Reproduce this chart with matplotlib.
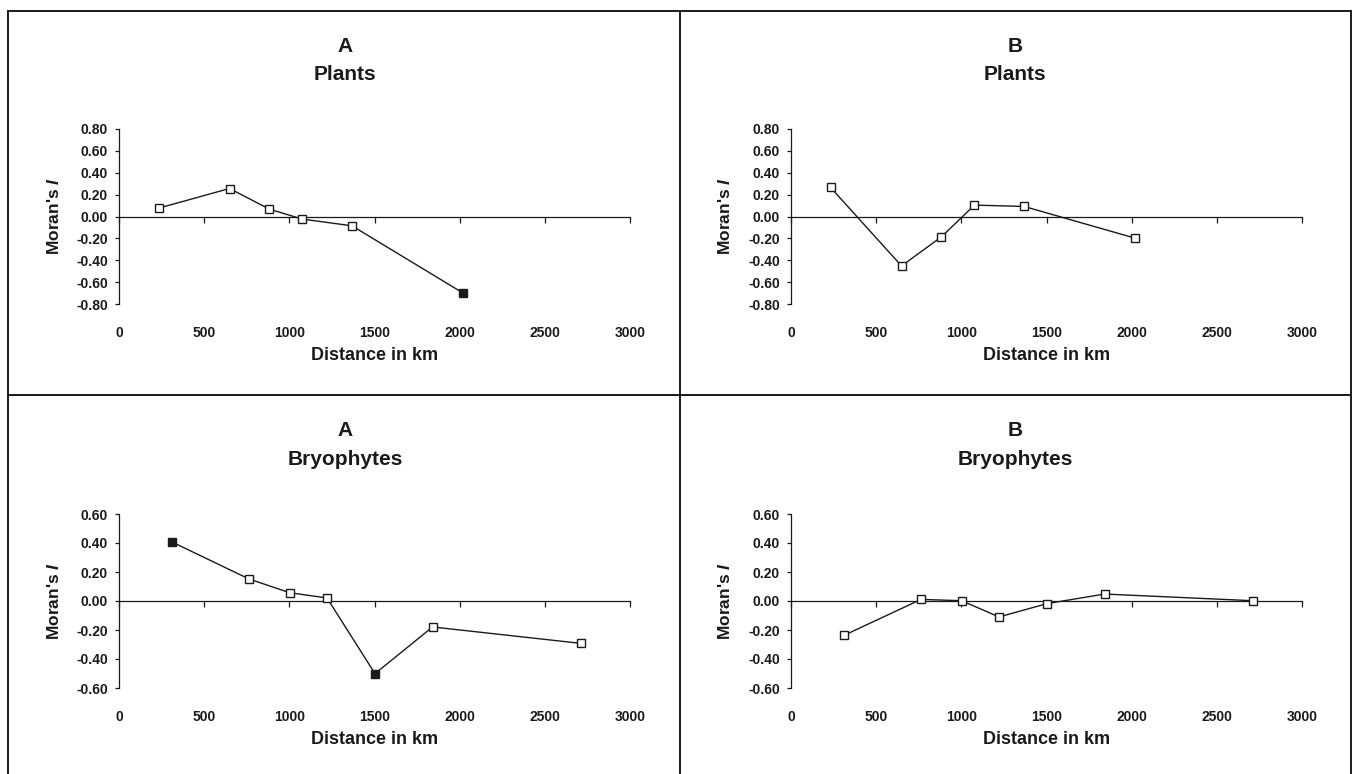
import matplotlib
matplotlib.use("Agg")
import matplotlib.pyplot as plt
from matplotlib.lines import Line2D

plt.rcParams['font.family'] = ['Liberation Sans', 'DejaVu Sans']
plt.rcParams['font.weight'] = 'bold'

# --- data ---
plant_dist = [232, 649, 883, 1077, 1368, 2020]
plants_a = [0.076, 0.256, 0.067, -0.024, -0.085, -0.70]
plants_a_sig = [False, False, False, False, False, True]
plants_b = [0.266, -0.452, -0.186, 0.104, 0.092, -0.198]
plants_b_sig = [False, False, False, False, False, False]

bryo_dist = [311, 763, 1002, 1221, 1503, 1841, 2710]
bryo_a = [0.407, 0.152, 0.057, 0.021, -0.501, -0.179, -0.292]
bryo_a_sig = [True, False, False, False, True, False, False]
bryo_b = [-0.237, 0.011, 0.002, -0.110, -0.018, 0.048, 0.002]
bryo_b_sig = [False, False, False, False, False, False, False]

x_ticks = [0, 500, 1000, 1500, 2000, 2500, 3000]
plant_yticks = [0.8, 0.6, 0.4, 0.2, 0.0, -0.2, -0.4, -0.6, -0.8]
bryo_yticks = [0.6, 0.4, 0.2, 0.0, -0.2, -0.4, -0.6]

W, H = 1360, 774
INK = '#1a1a1a'

fig = plt.figure(figsize=(W / 100, H / 100), dpi=100)


def px_box(x0, y0, x1, y1):
    # pixel box (top-left origin) -> figure fraction rect
    return [x0 / W, 1 - y1 / H, (x1 - x0) / W, (y1 - y0) / H]


def panel(rect, xs, ys, sig, yticks, letter, group, title_x, title_ys, ylab_x):
    ax = fig.add_axes(rect)
    ylim = max(yticks)
    ax.set_xlim(0, 3000)
    ax.set_ylim(-ylim, ylim)
    for s in ['top', 'right']:
        ax.spines[s].set_visible(False)
    ax.spines['bottom'].set_position(('data', 0))
    for s in ['left', 'bottom']:
        ax.spines[s].set_linewidth(0.9)
        ax.spines[s].set_color(INK)
    ax.set_xticks(x_ticks)
    ax.set_yticks(yticks)
    ax.set_yticklabels([f"{v:.2f}" for v in yticks])
    ax.tick_params(axis='x', labelbottom=False, direction='out', length=4,
                   width=0.9, color=INK)
    ax.tick_params(axis='y', direction='out', length=3, width=0.9, color=INK,
                   labelsize=10, pad=5, labelcolor=INK)

    # x tick labels sit at the bottom of the plot, not on the zero line
    sec = ax.secondary_xaxis('bottom')
    sec.set_xticks(x_ticks)
    sec.set_xticklabels([str(v) for v in x_ticks])
    sec.spines['bottom'].set_visible(False)
    sec.tick_params(length=0, pad=16, labelsize=10, labelcolor=INK)

    ax.plot(xs, ys, color=INK, lw=1.0, zorder=2)
    for x, y, s in zip(xs, ys, sig):
        ax.plot(x, y, marker='s', ms=5.5, mec=INK, mew=1.0,
                mfc=INK if s else 'white', zorder=3, clip_on=False)

    fig.text(title_x / W, 1 - title_ys[0] / H, letter, ha='center', va='center',
             fontsize=15, color=INK)
    fig.text(title_x / W, 1 - title_ys[1] / H, group, ha='center', va='center',
             fontsize=15, color=INK)
    # axis labels
    pos = ax.get_position()
    fig.text(pos.x0 + pos.width / 2, 1 - title_ys[2] / H, "Distance in km",
             ha='center', va='center', fontsize=13, color=INK)
    fig.text(ylab_x / W, pos.y0 + pos.height / 2, "Moran's $\\mathbfit{I}$",
             ha='center', va='center', rotation=90, fontsize=12.5, color=INK)
    return ax


plt.rcParams['mathtext.fontset'] = 'custom'
plt.rcParams['mathtext.bfit'] = 'Liberation Sans:bold:italic'

panel(px_box(119, 129, 630, 304), plant_dist, plants_a, plants_a_sig,
      plant_yticks, "A", "Plants", 345, (47, 75, 356), 54)
panel(px_box(791, 129, 1302, 304), plant_dist, plants_b, plants_b_sig,
      plant_yticks, "B", "Plants", 1015, (47, 75, 356), 725)
panel(px_box(119, 514, 630, 688), bryo_dist, bryo_a, bryo_a_sig,
      bryo_yticks, "A", "Bryophytes", 345, (430, 459, 740), 54)
panel(px_box(791, 514, 1302, 688), bryo_dist, bryo_b, bryo_b_sig,
      bryo_yticks, "B", "Bryophytes", 1015, (430, 459, 740), 725)

# panel frame lines
frame = [((8, 11), (1351, 11)), ((8, 11), (8, 774)), ((1351, 11), (1351, 774)),
         ((680, 11), (680, 774)), ((8, 395), (1351, 395))]
for (x0, y0), (x1, y1) in frame:
    fig.add_artist(Line2D([x0 / W, x1 / W], [1 - y0 / H, 1 - y1 / H],
                          transform=fig.transFigure, color=INK, lw=1.4))

fig.savefig("out.png", dpi=100)
